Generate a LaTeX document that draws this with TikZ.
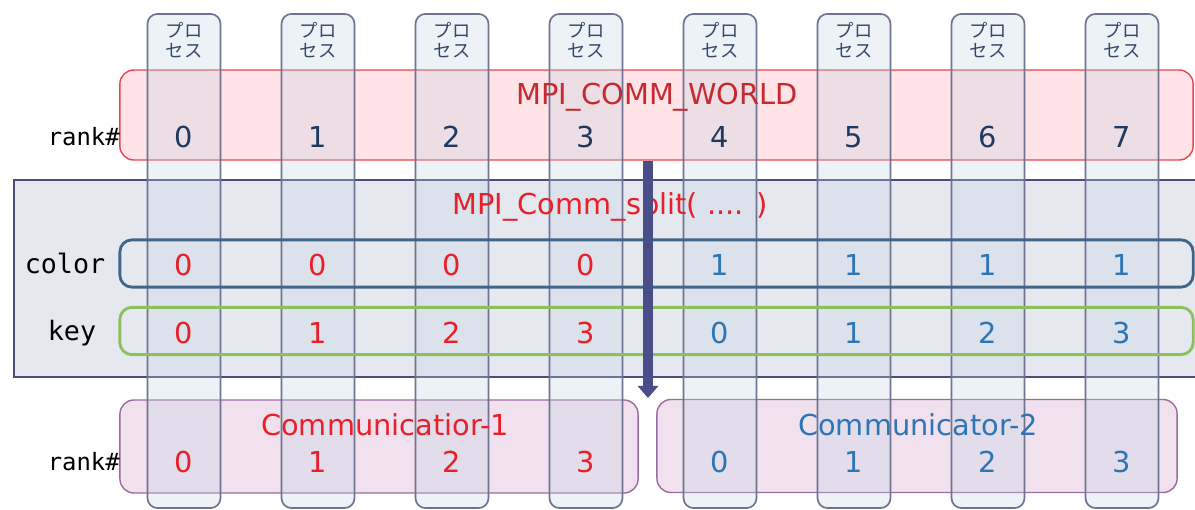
\documentclass[tikz,border=0pt]{standalone}
\usepackage{fontspec}
\setmainfont{DejaVu Sans}
\setmonofont{DejaVu Sans Mono}
\newfontfamily\jpfont{Noto Sans CJK JP}
\usetikzlibrary{arrows.meta}

\definecolor{procfill}{HTML}{C3D5E2}
\definecolor{procline}{HTML}{6E7392}
\definecolor{worldfill}{HTML}{FFE3E6}
\definecolor{worldline}{HTML}{E5474D}
\definecolor{splitfill}{HTML}{E6E8EF}
\definecolor{splitline}{HTML}{4A4E78}
\definecolor{colorline}{HTML}{3F6688}
\definecolor{keyline}{HTML}{8CC15A}
\definecolor{commfill}{HTML}{F1E0EE}
\definecolor{commline}{HTML}{9C6B9F}
\definecolor{navy}{HTML}{1F3A60}
\definecolor{jpnavy}{HTML}{34496A}
\definecolor{numred}{HTML}{E8202A}
\definecolor{numblue}{HTML}{2E75B6}
\definecolor{darkred}{HTML}{C42A30}
\definecolor{arrowc}{HTML}{4A4E88}

\tikzset{
  proc/.style={draw=procline, line width=1.2pt, fill=procfill, fill opacity=0.3,
    rounded corners=0.25cm, minimum width=1.825cm, minimum height=12.35cm, inner sep=0pt},
  row/.style={draw, line width=2pt, rounded corners=0.3cm, minimum width=26.825cm,
    minimum height=1.18cm, inner sep=0pt},
  comm/.style={draw=commline, line width=1pt, fill=commfill, rounded corners=0.35cm,
    minimum height=2.325cm, inner sep=0pt},
  bignum/.style={font=\fontsize{20.5}{24}\selectfont, inner sep=0pt},
  monolab/.style={font=\ttfamily\fontsize{19}{22}\selectfont, inner sep=0pt},
  jplab/.style={font=\jpfont\fontsize{13}{14.5}\selectfont, text=jpnavy, align=center, inner sep=0pt}
}

\begin{document}
\begin{tikzpicture}[x=0.025cm, y=-0.025cm]
    \useasboundingbox (0,0) rectangle (1195,510);

    % boxes
    \node[draw=splitline, line width=1.5pt, fill=splitfill, minimum width=29.775cm,
          minimum height=4.925cm, inner sep=0pt] (split) at (609.5,278.5) {};
    \node[draw=worldline, line width=1pt, fill=worldfill, rounded corners=0.35cm,
          minimum width=26.825cm, minimum height=2.25cm, inner sep=0pt] (world) at (656.5,115) {};
    \node[comm, minimum width=12.95cm] (comm1) at (379,446.5) {};
    \node[comm, minimum width=13cm] (comm2) at (917,446) {};

    % processes
    \foreach \i in {0,...,7} {
        \node[proc] (p\i) at (184+134*\i,261) {};
        \node[jplab] (l\i) at (184+134*\i,40) {プロ\\セス};
    }

    \node[row, draw=colorline] (color) at (656.5,263.5) {};
    \node[row, draw=keyline] (key) at (656.5,331) {};

    % texts
    \node[bignum, text=darkred] (worldname) at (657,97) {MPI\_COMM\_WORLD};
    \node[bignum, text=numred] (splitname) at (610,207) {MPI\_Comm\_split( .... )};
    \node[bignum, text=numred] (comm1name) at (385,425) {Communicatior-1};
    \node[bignum, text=numblue] (comm2name) at (918,425) {Communicator-2};

    \node[monolab, font=\ttfamily\fontsize{17}{20}\selectfont, anchor=east] (rankA) at (120,137) {rank\#};
    \node[monolab, font=\ttfamily\fontsize{17}{20}\selectfont, anchor=east] (rankB) at (120,462) {rank\#};
    \node[monolab] (colorlab) at (65,263) {color};
    \node[monolab] (keylab) at (72,333) {key};

    \foreach \i/\c/\k/\col in {0/0/0/numred,1/0/1/numred,2/0/2/numred,3/0/3/numred,
                               4/1/0/numblue,5/1/1/numblue,6/1/2/numblue,7/1/3/numblue} {
        \node[bignum, text=navy] (w\i) at (184+134*\i,137) {\i};
        \node[bignum, text=\col] (c\i) at (184+134*\i,265) {\c};
        \node[bignum, text=\col] (k\i) at (184+134*\i,333) {\k};
        \node[bignum, text=\col] (r\i) at (184+134*\i,462) {\k};
    }

    % split arrow
    \coordinate (splitend) at (648,398);
    \draw[arrowc, line width=7pt, -{Triangle[width=0.5cm, length=0.3cm]}]
        (world.south -| splitend) -- (splitend);
\end{tikzpicture}
\end{document}
